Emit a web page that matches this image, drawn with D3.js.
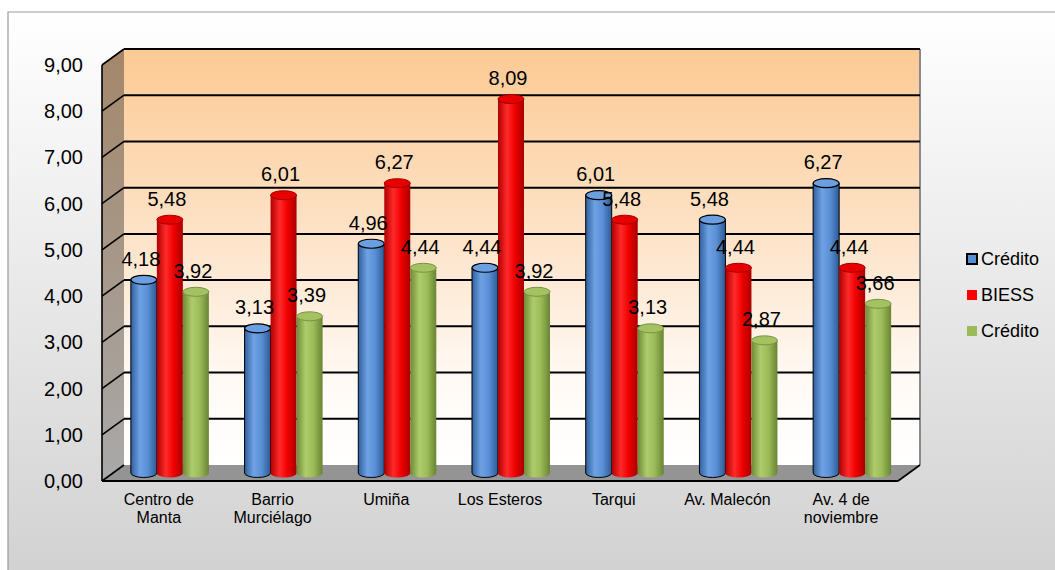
<!DOCTYPE html>
<html><head><meta charset="utf-8">
<script src="https://cdn.jsdelivr.net/npm/d3@7"></script>
<style>body{margin:0;background:#fff}svg{display:block;font-family:"Liberation Sans",Arial,sans-serif}</style>
</head><body><svg id="c" width="1055" height="570"></svg>
<script>
const categories = [["Centro de","Manta"],["Barrio","Murciélago"],["Umiña"],["Los Esteros"],["Tarqui"],["Av. Malecón"],["Av. 4 de","noviembre"]];
const seriesNames = ["Crédito","BIESS","Crédito"];
const credito1 = [4.18,3.13,4.96,4.44,6.01,5.48,6.27];
const biess = [5.48,6.01,6.27,8.09,5.48,4.44,4.44];
const credito2 = [3.92,3.39,4.44,3.92,3.13,2.87,3.66];
const yTicks = [0,1,2,3,4,5,6,7,8,9];
const seriesValues = [credito1, biess, credito2];

const svg = d3.select("#c");
const defs = svg.append("defs");
const fmt = v => v.toFixed(2).replace(".", ",");

// background gradient
const bg = defs.append("linearGradient").attr("id","bg").attr("x1",0).attr("x2",0).attr("y1",0).attr("y2",1);
bg.append("stop").attr("offset","0%").attr("stop-color","#ffffff");
bg.append("stop").attr("offset","100%").attr("stop-color","#d2d2d2");
svg.append("rect").attr("x",8).attr("y",12).attr("width",1047).attr("height",558).attr("fill","url(#bg)");
svg.append("path").attr("d","M8,570V12H1055").attr("fill","none").attr("stroke","#9a9a9a").attr("stroke-width",1.2);

// geometry
const DX = 22, DY = 16;
const wallL = 124, wallR = 920;
const y = d3.scaleLinear().domain([0,9]).range([465,49]);
const x = d3.scaleBand().domain(d3.range(categories.length)).range([wallL, wallR]).paddingInner(0.314).paddingOuter(0.157);
const xs = d3.scaleBand().domain(d3.range(3)).range([0, x.bandwidth()]);

// back wall gradient
const wg = defs.append("linearGradient").attr("id","wall").attr("x1",0).attr("x2",0).attr("y1",0).attr("y2",1);
wg.append("stop").attr("offset","0%").attr("stop-color","#fcca94");
wg.append("stop").attr("offset","45%").attr("stop-color","#fde3c8");
wg.append("stop").attr("offset","80%").attr("stop-color","#fffaf5");
wg.append("stop").attr("offset","100%").attr("stop-color","#ffffff");
svg.append("rect").attr("x",wallL).attr("y",y(9)).attr("width",wallR-wallL).attr("height",y(0)-y(9)).attr("fill","url(#wall)");
svg.append("line").attr("x1",wallR).attr("x2",wallR).attr("y1",y(9)).attr("y2",y(0)).attr("stroke","#8a8a8a").attr("stroke-width",2);

// left wall
const lg = defs.append("linearGradient").attr("id","lwall").attr("x1",0).attr("x2",0).attr("y1",0).attr("y2",1);
lg.append("stop").attr("offset","0%").attr("stop-color","#a4876a");
lg.append("stop").attr("offset","100%").attr("stop-color","#a9a9a9");
svg.append("path").attr("d",`M${wallL-DX},${y(9)+DY}L${wallL},${y(9)}L${wallL},${y(0)}L${wallL-DX},${y(0)+DY}Z`).attr("fill","url(#lwall)");

// floor
svg.append("path").attr("d",`M${wallL-DX},${y(0)+DY}L${wallL},${y(0)}L${wallR},${y(0)}L${wallR-DX},${y(0)+DY}Z`).attr("fill","#949494");

// gridlines
yTicks.forEach(t => {
  if (t > 0) svg.append("line").attr("x1",wallL).attr("x2",wallR).attr("y1",y(t)).attr("y2",y(t)).attr("stroke","#000").attr("stroke-width",2);
  svg.append("line").attr("x1",wallL-DX).attr("x2",wallL).attr("y1",y(t)+DY).attr("y2",y(t)).attr("stroke","#000").attr("stroke-width",1.6);
});
svg.append("line").attr("x1",wallL-DX).attr("x2",wallL-DX).attr("y1",y(9)+DY).attr("y2",y(0)+DY).attr("stroke","#000").attr("stroke-width",1.6);
svg.append("line").attr("x1",wallL-DX).attr("x2",wallR-DX).attr("y1",y(0)+DY).attr("y2",y(0)+DY).attr("stroke","#000").attr("stroke-width",2);
svg.append("line").attr("x1",wallR-DX).attr("x2",wallR).attr("y1",y(0)+DY).attr("y2",y(0)).attr("stroke","#000").attr("stroke-width",1.6);

// tick labels
svg.append("g").selectAll("text").data(yTicks).join("text")
  .attr("x",83).attr("y",t=>y(t)+DY).attr("dy","0.35em").attr("text-anchor","end")
  .attr("font-size",20).attr("fill","#000").text(fmt);

// category labels
categories.forEach((lines,i) => {
  const cx = x(i) + x.bandwidth()/2 - DX;
  const t = svg.append("text").attr("text-anchor","middle").attr("font-size",16).attr("fill","#000");
  lines.forEach((l,j) => t.append("tspan").attr("x",cx).attr("y",505 + j*18).text(l));
});

// cylinder gradients
const palettes = [
  {side:["#2f5f9e","#6fa2e4","#5a8fd6","#2c5a94"], top:"#6a9fe2", rim:"#000"},
  {side:["#b00000","#ff2a2a","#f00000","#a80000"], top:"#e80000", rim:"#a00000"},
  {side:["#6f8a36","#afcc6c","#9bbb59","#6a8432"], top:"#a5c263", rim:"#7a9442"}
];
palettes.forEach((p,i) => {
  const g = defs.append("linearGradient").attr("id","cyl"+i).attr("x1",0).attr("x2",1).attr("y1",0).attr("y2",0);
  [0,0.35,0.65,1].forEach((o,k)=>g.append("stop").attr("offset",o).attr("stop-color",p.side[k]));
});

const RY = 4.5;
const bars = svg.append("g");
categories.forEach((c,i) => {
  seriesValues.forEach((vals,s) => {
    const w = xs.bandwidth();
    const bx = x(i) + xs(s) - DX/2;
    const top = y(vals[i]) + DY/2, bot = y(0) + DY/2;
    const p = palettes[s];
    const g = bars.append("g");
    g.append("path")
      .attr("d",`M${bx},${top}L${bx},${bot}A${w/2},${RY} 0 0 0 ${bx+w},${bot}L${bx+w},${top}Z`)
      .attr("fill",`url(#cyl${s})`).attr("stroke", s===0?"#000":"none").attr("stroke-width",1);
    g.append("ellipse").attr("cx",bx+w/2).attr("cy",top).attr("rx",w/2).attr("ry",RY)
      .attr("fill",p.top).attr("stroke",p.rim).attr("stroke-width",s===0?1.2:1);
  });
});

// value labels
categories.forEach((c,i) => {
  seriesValues.forEach((vals,s) => {
    const w = xs.bandwidth();
    const bx = x(i) + xs(s) - DX/2;
    svg.append("text").attr("x",bx+w/2-3).attr("y",y(vals[i]) + DY/2 - 21).attr("dy","0.35em")
      .attr("text-anchor","middle").attr("font-size",20).attr("fill","#000").text(fmt(vals[i]));
  });
});

// legend
const legColors = ["#558ed5","#ff0000","#9bbb59"];
const leg = svg.append("g");
seriesNames.forEach((n,i) => {
  const ly = 259 + i*36;
  leg.append("rect").attr("x",967).attr("y",ly-5).attr("width",10).attr("height",10)
    .attr("fill",legColors[i]).attr("stroke",i===0?"#000":"none").attr("stroke-width",i===0?2:0);
  leg.append("text").attr("x",981).attr("y",ly).attr("dy","0.35em").attr("font-size",18).attr("fill","#000").text(n);
});
</script></body></html>
